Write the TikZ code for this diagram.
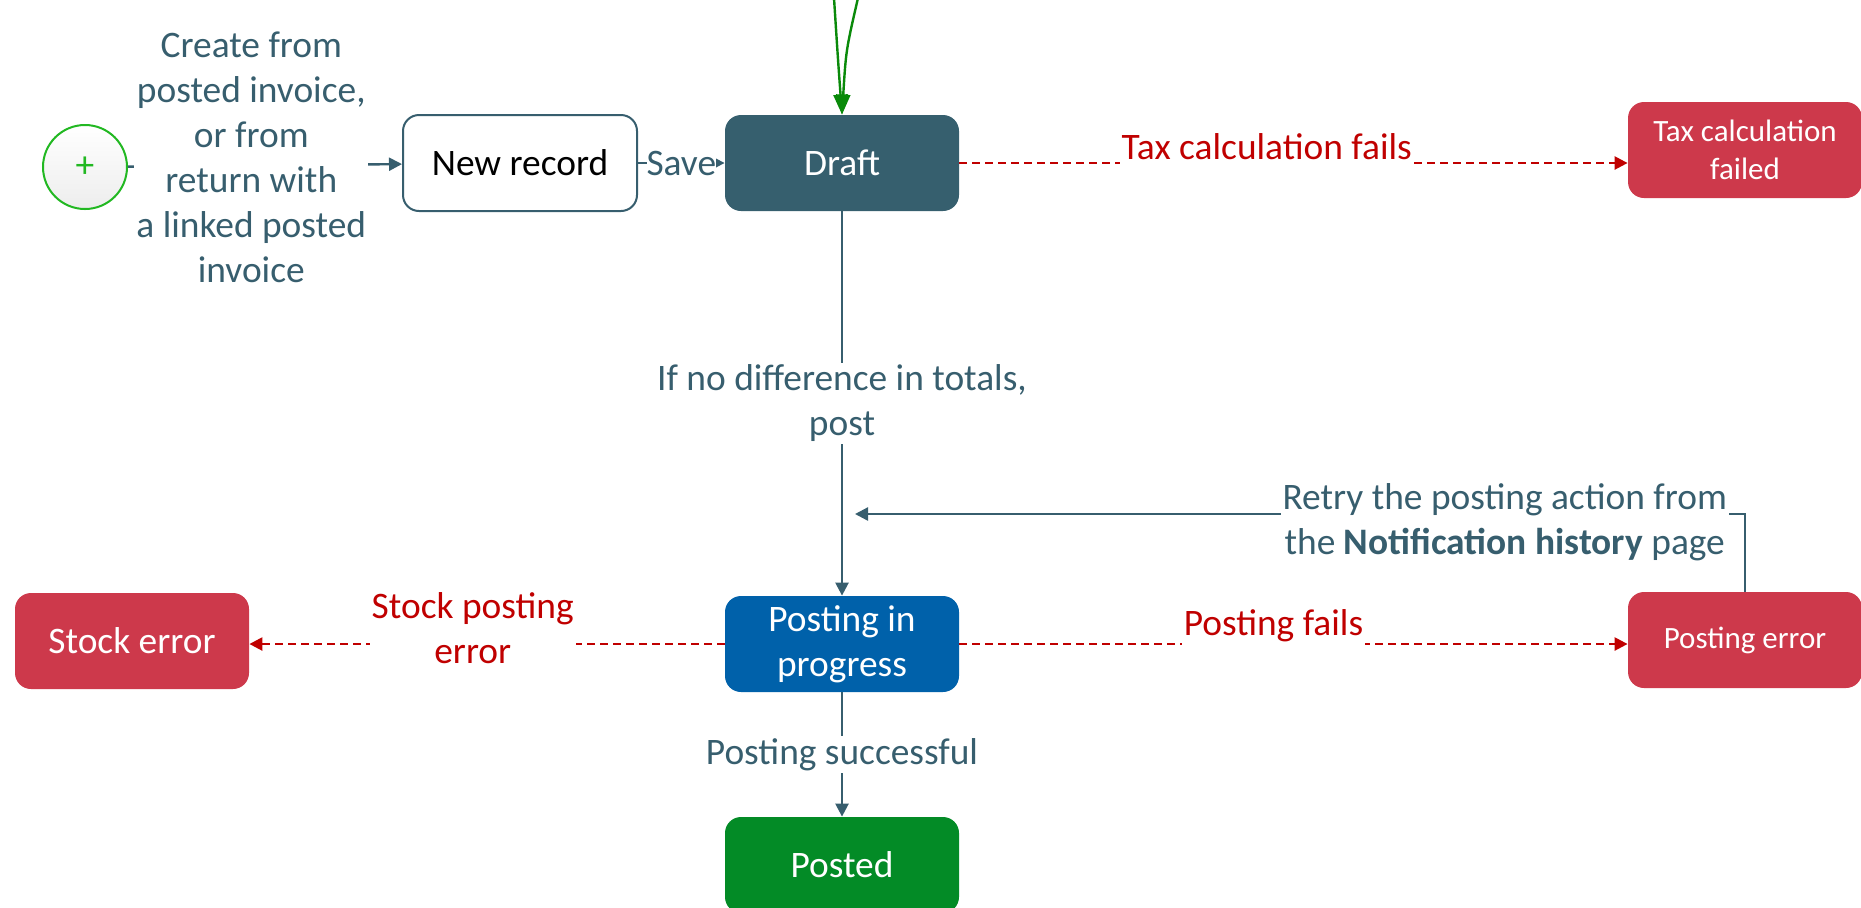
\documentclass[tikz,border=0pt]{standalone}
\usepackage{fontspec}
\setmainfont{Carlito}
\usetikzlibrary{positioning, shapes, arrows.meta, calc}

\definecolor{lineteal}{HTML}{375E6E}
\definecolor{draftfill}{HTML}{365F6E}
\definecolor{failred}{HTML}{CD394B}
\definecolor{labelred}{HTML}{C00000}
\definecolor{progblue}{HTML}{0061AA}
\definecolor{postgreen}{HTML}{038B26}
\definecolor{startgreen}{HTML}{22B822}
\definecolor{arrowgreen}{HTML}{0A8A0A}

\begin{document}
\begin{tikzpicture}[x=0.5pt, y=-0.5pt, font=\fontsize{18.7}{22.5}\selectfont,
  state/.style={rounded corners=8pt, minimum width=117pt, minimum height=48pt, align=center, text=white},
  small/.style={font=\fontsize{15.5}{19}\selectfont},
  flow/.style={draw=lineteal, line width=1.2pt, -{Triangle[length=6.5pt, width=6.5pt]}},
  fail/.style={draw=labelred, line width=1.2pt, dash pattern=on 4pt off 2.5pt, -{Triangle[length=6.5pt, width=6.5pt]}},
  lbl/.style={fill=white, text=lineteal, align=center, inner sep=1pt},
  faillbl/.style={fill=white, text=labelred, align=center, inner xsep=1pt, inner ysep=4pt}]
  \useasboundingbox (0,0) rectangle (1861,907);

  % states
  \node[draw=startgreen, circle, line width=1pt, minimum size=42pt, inner sep=0pt,
        top color=white, bottom color=black!7, text=startgreen] (start) at (85,167) {+};
  \node[state, draw=lineteal, line width=1pt, fill=white, text=black] (newrec) at (520,163) {New record};
  \node[state, fill=draftfill] (draft) at (842,163) {Draft};
  \node[state, small, fill=failred] (taxfail) at (1745,150) {Tax calculation\\failed};
  \node[state, fill=progblue] (prog) at (842,644) {Posting in\\progress};
  \node[state, small, fill=failred] (posterr) at (1745,640) {Posting error};
  \node[state, fill=failred] (stock) at (132,641) {Stock error};
  \node[state, fill=postgreen] (posted) at (842,865) {Posted};

  % incoming from above
  \coordinate (inleft) at (834,-2);
  \coordinate (inright) at (858,-2);
  \draw[arrowgreen, line width=1.2pt, -{Triangle[length=10pt, width=7pt]}]
    (inleft) .. controls (838,60) .. (draft.north);
  \draw[arrowgreen, line width=1.2pt, -{Triangle[length=10pt, width=7pt]}]
    (inright) .. controls (846,50) .. (draft.north);

  % transitions
  \draw[flow] (start) -- (newrec) node[lbl, pos=0.45, yshift=4pt] {Create from\\posted invoice,\\or from\\return with\\a linked posted\\invoice};
  \draw[flow] (newrec) -- (draft) node[lbl, midway, inner sep=0pt] {Save};
  \draw[fail] (draft.east) -- (draft.east -| taxfail.west)
    node[faillbl, pos=0.46, yshift=8pt] {Tax calculation fails};
  \draw[flow] (draft) -- (prog) node[lbl, midway] {If no difference in totals,\\post};
  \draw[fail] (prog.east) -- (prog.east -| posterr.west)
    node[faillbl, pos=0.47, yshift=9pt] {Posting fails};
  \draw[fail] (prog.west) -- (prog.west -| stock.east)
    node[faillbl, pos=0.53, yshift=8pt] {Stock posting\\error};
  \draw[flow] (prog) -- (posted) node[lbl, midway] {Posting successful};

  \coordinate (retryend) at (855,514);
  \draw[flow] (posterr.north) |- (retryend)
    node[lbl, pos=0.635, yshift=-4pt] {Retry the posting action from\\the \textbf{Notification history} page};
\end{tikzpicture}
\end{document}
